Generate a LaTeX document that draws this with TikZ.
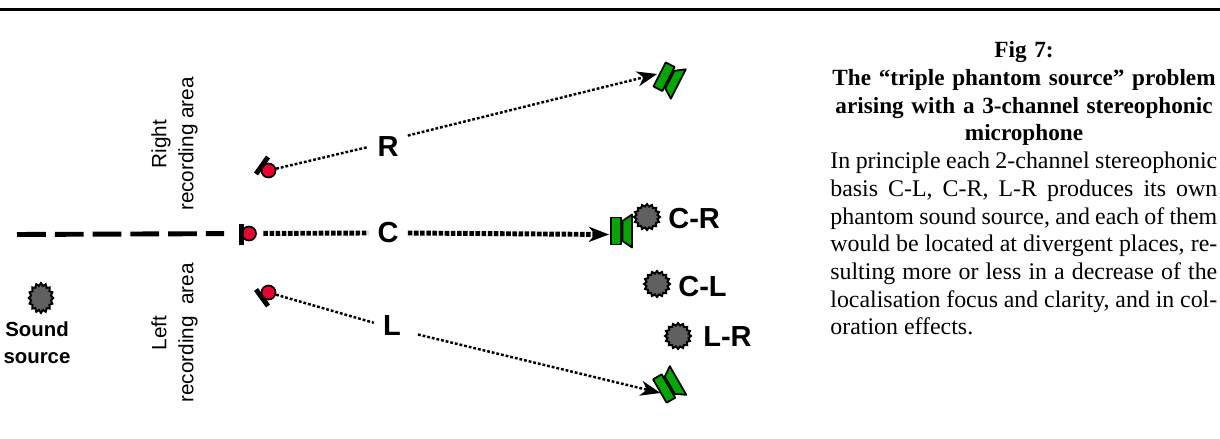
\documentclass[tikz,border=0pt]{standalone}
\usepackage{fontspec}
\setmainfont{Liberation Serif}
\setsansfont{Liberation Sans}
\usetikzlibrary{arrows.meta, shapes.geometric}
\definecolor{micred}{HTML}{EE0033}
\definecolor{spkgreen}{HTML}{00A800}
\definecolor{blobgray}{HTML}{606060}
\tikzset{
	blob/.style={star, star points=16, star point ratio=1.22, draw=black, fill=blobgray, line width=1.1pt, minimum size=0.52cm, inner sep=0pt},
	mic/.style={circle, draw=black, fill=micred, line width=1pt, minimum size=0.28cm, inner sep=0pt},
	micbar/.style={line width=2.8pt},
	chan/.style={font=\sffamily\bfseries\fontsize{16.5}{18}\selectfont, inner sep=0.18cm},
	phantom/.style={font=\sffamily\bfseries\fontsize{16.5}{18}\selectfont, anchor=west, inner sep=0pt},
	area/.style={font=\sffamily\fontsize{11.8}{15.4}\selectfont, align=center, rotate=90},
	feed/.style={line width=1.4pt, dash pattern=on 1.6pt off 1.1pt},
	feedC/.style={line width=2.8pt, dash pattern=on 2.6pt off 0.9pt},
	tip/.style={-{Stealth[length=0.4cm, width=0.3cm, inset=0.12cm]}},
	spk/.style={draw=black, fill=spkgreen, line width=1pt, line join=round},
	speaker/.pic={
		\path[spk] (-10,-13.5) rectangle (0,13.5);
		\path[spk] (1.5,-10) -- (11,-16.5) -- (11,16.5) -- (1.5,10) -- cycle;
	}
}
\begin{document}
\begin{tikzpicture}[x=0.02cm, y=-0.02cm]
	\useasboundingbox (0,0) rectangle (1220,439);
	\draw[line width=1.8pt]	(0,9.5) -- (1220,9.5);

	\node[mic] (micR) at (268.5,170.5) {};
	\node[mic] (micC) at (249,233.5) {};
	\node[mic] (micL) at (268.5,292.5) {};
	\draw[micbar]	(256,174) -- (268,157);
	\draw[micbar]	(241.5,224) -- (241.5,245);
	\draw[micbar]	(256,289.5) -- (268,306);

	\node[chan] (lblR) at (388,147) {R};
	\node[chan] (lblC) at (388,233) {C};
	\node[chan] (lblL) at (392,326) {L};

	\pic[rotate=-27] at (668.5,79) {speaker};
	\pic at (621,231) {speaker};
	\pic[rotate=30] at (668.5,386) {speaker};
	\coordinate (tipR) at (657,74);
	\coordinate (tipC) at (609,234.5);
	\coordinate (tipL) at (660.5,393);
	\coordinate (axis) at (17,234.5);

	\draw[line width=2.8pt, dash pattern=on 16.4pt off 5.1pt, shorten >=0.34cm]	(axis) -- (micC);
	\draw[feed]			(micR) -- (lblR.west);
	\draw[feed, tip]		(lblR.30) -- (tipR);
	\draw[feedC, shorten <=0.13cm]	(micC) -- (lblC.west);
	\draw[feedC, tip]		(lblC.east) -- (tipC);
	\draw[feed]			(micL) -- (lblL.170);
	\draw[feed, tip, shorten <=0.16cm]	(lblL.-20) -- (tipL);

	\node[blob, xscale=0.95, yscale=1.15, transform shape] (source) at (41,298) {};
	\node[font=\sffamily\bfseries\fontsize{11.6}{15.4}\selectfont, align=center] (sourcetxt) at (37,342.5) {Sound\\source};

	\node[area] (right) at (174.5,144) {Right\\recording area};
	\node[area] (left) at (174.5,333) {Left\\recording\ \ area};

	\node[blob] (blobCR) at (647,217) {};
	\node[blob] (blobCL) at (657,284) {};
	\node[blob] (blobLR) at (678,336) {};
	\node[phantom] (txtCR) at (668,219) {C-R};
	\node[phantom] (txtCL) at (678,287) {C-L};
	\node[phantom] (txtLR) at (703,337) {L-R};

	\node[font=\bfseries\fontsize{13.2}{15.85}\selectfont, align=center, text width=8.4cm, inner sep=0pt, anchor=north] (title) at (1024,41) {Fig 7:\\The “triple phantom source” problem\\arising with a 3-channel stereophonic\\microphone};
	\node[font=\fontsize{13.6}{15.75}\selectfont, align=justify, text width=7.74cm, inner sep=0pt, anchor=north west] (body) at (830,152) {In principle each 2-channel stereophonic\linebreak basis C-L, C-R, L-R produces its own\linebreak phantom sound source, and each of them\linebreak would be located at divergent places, re-\linebreak sulting more or less in a decrease of the\linebreak localisation focus and clarity, and in col-\linebreak oration effects.};
\end{tikzpicture}
\end{document}
